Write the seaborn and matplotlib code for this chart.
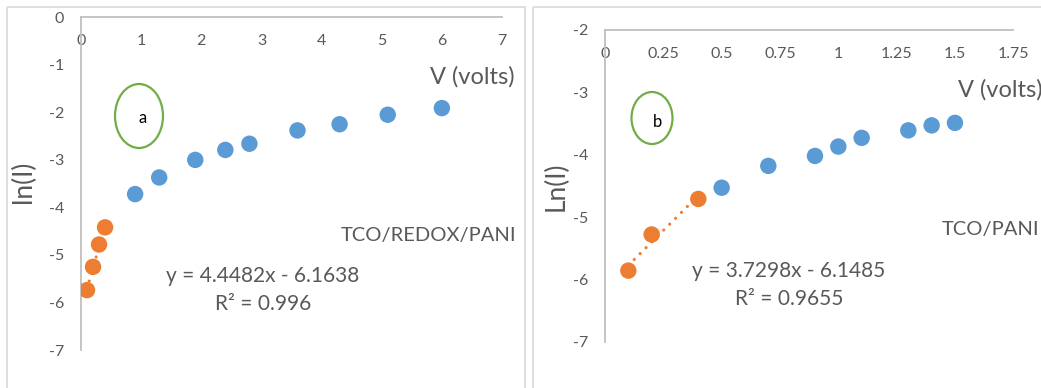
import numpy as np
import pandas as pd
import matplotlib
matplotlib.use("Agg")
import matplotlib.pyplot as plt
from matplotlib.patches import Ellipse, Rectangle
from matplotlib.transforms import Affine2D
import seaborn as sns

# ---- data -------------------------------------------------------------
# Panel a: TCO/REDOX/PANI
a_v_high = [0.9, 1.3, 1.9, 2.4, 2.8, 3.6, 4.3, 5.1, 6.0]
a_ln_high = [-3.72, -3.37, -3.00, -2.79, -2.66, -2.38, -2.25, -2.05, -1.91]
a_v_low = [0.1, 0.2, 0.3, 0.4]
a_ln_low = [-5.74, -5.25, -4.78, -4.42]
a_slope, a_intercept, a_r2 = 4.4482, -6.1638, 0.996

# Panel b: TCO/PANI
b_v_high = [0.5, 0.7, 0.9, 1.0, 1.1, 1.3, 1.4, 1.5]
b_ln_high = [-4.53, -4.18, -4.02, -3.87, -3.73, -3.61, -3.53, -3.49]
b_v_low = [0.1, 0.2, 0.4]
b_ln_low = [-5.86, -5.28, -4.71]
b_slope, b_intercept, b_r2 = 3.7298, -6.1485, 0.9655

a_xticks = [0, 1, 2, 3, 4, 5, 6, 7]
a_yticks = [0, -1, -2, -3, -4, -5, -6, -7]
b_xticks = [0, 0.25, 0.5, 0.75, 1, 1.25, 1.5, 1.75]
b_yticks = [-2, -3, -4, -5, -6, -7]

# ---- style ------------------------------------------------------------
sns.set_theme(style="white")
plt.rcParams["font.family"] = ["Lato", "DejaVu Sans"]

BLUE = "#5B9BD5"
ORANGE = "#ED7D31"
GREEN = "#70AD47"
TEXT = "#595959"
AXIS = "#BFBFBF"
FRAME = "#D9D9D9"

W, H = 1041, 388
fig = plt.figure(figsize=(W / 100, H / 100), dpi=100)
px = Affine2D().scale(1, -1).translate(0, H)  # top-left pixel coordinates


def fpos(x, y):
    return x / W, 1 - y / H


def make_axes(rect_px, xlim, ylim, xticks, yticks):
    x0, y0, x1, y1 = rect_px
    ax = fig.add_axes([x0 / W, 1 - y1 / H, (x1 - x0) / W, (y1 - y0) / H])
    ax.set_xlim(*xlim)
    ax.set_ylim(*ylim)
    for s in ("top", "right"):
        ax.spines[s].set_visible(False)
    ax.spines["bottom"].set_position(("axes", 1.0))
    for s in ("left", "bottom"):
        ax.spines[s].set_color(AXIS)
        ax.spines[s].set_linewidth(1.3)
    ax.set_xticks(xticks)
    ax.set_xticklabels([f"{t:g}" for t in xticks])
    ax.set_yticks(yticks)
    ax.set_yticklabels([f"{t:g}" for t in yticks])
    ax.tick_params(axis="x", length=0, pad=12, labelsize=11.5, labelcolor=TEXT)
    ax.tick_params(axis="y", length=0, pad=12, labelsize=11.5, labelcolor=TEXT)
    ax.patch.set_alpha(0)
    ax.grid(False)
    return ax


def draw_panel(ax, v_hi, ln_hi, v_lo, ln_lo, slope, intercept):
    df = pd.DataFrame({
        "V": list(v_hi) + list(v_lo),
        "lnI": list(ln_hi) + list(ln_lo),
        "part": ["high"] * len(v_hi) + ["low"] * len(v_lo),
    })
    # linear trendline over the low-voltage points
    xs = np.array([min(v_lo), max(v_lo)])
    ax.plot(xs, slope * xs + intercept, color=ORANGE, lw=2.3,
            linestyle=(0, (0.01, 2.6)), dash_capstyle="round", zorder=2)
    sns.scatterplot(data=df, x="V", y="lnI", hue="part",
                    palette={"high": BLUE, "low": ORANGE}, s=140,
                    edgecolor="none", legend=False, ax=ax, zorder=3)
    ax.set_xlabel("")
    ax.set_ylabel("")


# chart frames
for x0, x1 in ((6.5, 525), (532.5, 1060)):
    fig.patches.append(Rectangle((x0, 6.5), x1 - x0, 420, transform=px,
                                 fill=False, edgecolor=FRAME, lw=1.2))

# ---- panel a ----------------------------------------------------------
axa = make_axes((81, 17.3, 502, 350), (0, 7), (-7, 0), a_xticks, a_yticks)
draw_panel(axa, a_v_high, a_ln_high, a_v_low, a_ln_low, a_slope, a_intercept)

fig.text(*fpos(515, 77), "V (volts)", ha="right", va="center",
         fontsize=17, color=TEXT)
fig.text(*fpos(23, 182), "ln(I)", ha="center", va="center", rotation=90,
         fontsize=19, color=TEXT)
fig.text(*fpos(516, 236), "TCO/REDOX/PANI", ha="right", va="center",
         fontsize=14.5, color=TEXT)
fig.text(*fpos(263, 276), f"y = {a_slope}x - {abs(a_intercept)}",
         ha="center", va="center", fontsize=15, color=TEXT)
fig.text(*fpos(263, 304), f"R² = {a_r2}", ha="center", va="center",
         fontsize=15, color=TEXT)
fig.patches.append(Ellipse((139, 116), 48, 64, transform=px, fill=False,
                           edgecolor=GREEN, lw=1.6))
fig.text(*fpos(143, 118), "a", ha="center", va="center", fontsize=12,
         color="black")

# ---- panel b ----------------------------------------------------------
axb = make_axes((605, 30, 1013.3, 341.7), (0, 1.75), (-7, -2), b_xticks,
                b_yticks)
draw_panel(axb, b_v_high, b_ln_high, b_v_low, b_ln_low, b_slope, b_intercept)

fig.text(*fpos(1043, 90), "V (volts)", ha="right", va="center",
         fontsize=17, color=TEXT)
fig.text(*fpos(556, 186), "Ln(I)", ha="center", va="center", rotation=90,
         fontsize=19, color=TEXT)
fig.text(*fpos(1039, 229), "TCO/PANI", ha="right", va="center",
         fontsize=14.5, color=TEXT)
fig.text(*fpos(789, 271), f"y = {b_slope}x - {abs(b_intercept)}",
         ha="center", va="center", fontsize=15, color=TEXT)
fig.text(*fpos(789, 299), f"R² = {b_r2}", ha="center", va="center",
         fontsize=15, color=TEXT)
fig.patches.append(Ellipse((652, 118), 41, 52, transform=px, fill=False,
                           edgecolor=GREEN, lw=1.6))
fig.text(*fpos(657, 122), "b", ha="center", va="center", fontsize=12,
         color="black")

fig.savefig("out.png", dpi=100, facecolor="white")
